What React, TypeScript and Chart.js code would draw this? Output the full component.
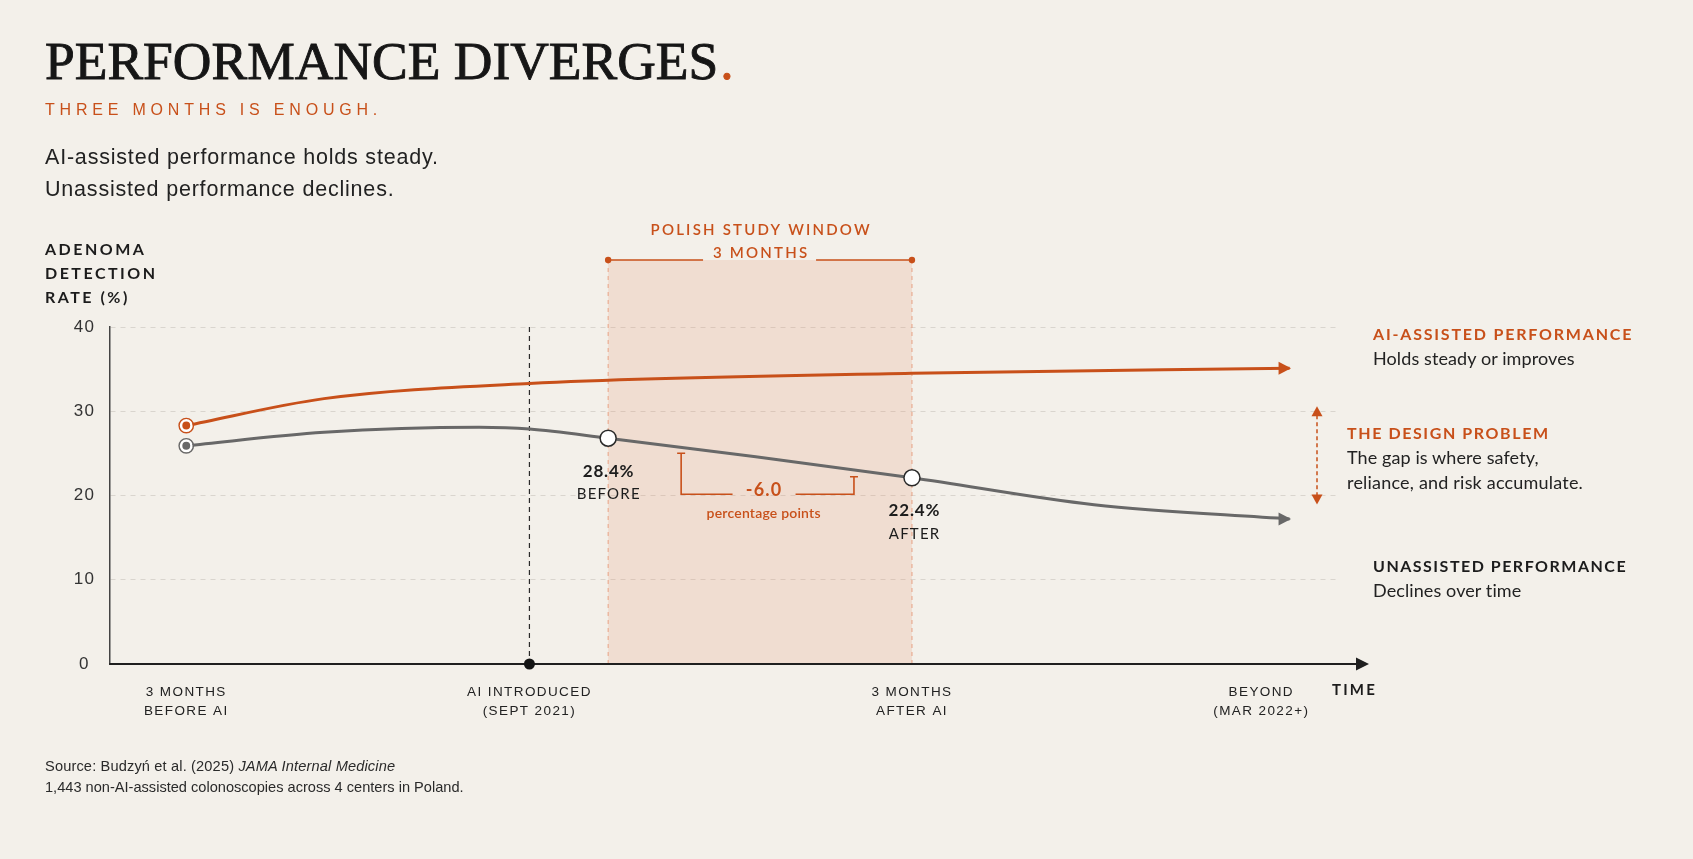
import React, { useEffect, useRef } from "react";
import { Chart, registerables } from "chart.js";

Chart.register(...registerables);

const ORANGE = "#c8501a";
const GRAY = "#686868";
const INK = "#1c1c1c";
const BG = "#f3f0ea";
const SANS = "'Liberation Sans', Arial, sans-serif";
const LATO = "Lato, 'Open Sans', sans-serif";

// Timeline positions (abstract units along the time axis, 0..100)
const timelineTicks = [6.2, 34.1, 65.2, 93.6];
const timelineTickLabels = [
  ["3 MONTHS", "BEFORE AI"],
  ["AI INTRODUCED", "(SEPT 2021)"],
  ["3 MONTHS", "AFTER AI"],
  ["BEYOND", "(MAR 2022+)"],
];
const yTickValues = [0, 10, 20, 30, 40];

// AI-assisted performance (adenoma detection rate, %)
const aiAssistedX = [6.2, 17.4, 34.1, 65.2, 95.9];
const aiAssistedY = [28.3, 31.5, 33.3, 34.5, 35.1];

// Unassisted performance (adenoma detection rate, %)
const unassistedX = [6.2, 17.4, 30.0, 34.1, 40.5, 52.5, 65.2, 80.0, 95.9];
const unassistedY = [25.9, 27.5, 28.1, 27.9, 26.8, 24.6, 22.1, 18.9, 17.2];

const aiIntroducedAt = 34.1;
const studyWindow = [40.5, 65.2];
const beforeIndex = 4;
const afterIndex = 6;
const beforeValueLabel = "28.4%";
const afterValueLabel = "22.4%";
const changeLabel = "-6.0";

function spacedText(
  ctx: CanvasRenderingContext2D,
  text: string,
  x: number,
  y: number,
  font: string,
  color: string,
  spacing: number,
  align: CanvasTextAlign = "center"
) {
  ctx.save();
  ctx.font = font;
  ctx.fillStyle = color;
  (ctx as any).letterSpacing = spacing + "px";
  ctx.textBaseline = "middle";
  ctx.textAlign = align;
  const dx = align === "center" ? spacing / 2 : 0;
  ctx.fillText(text, x + dx, y);
  ctx.restore();
}

function triangle(ctx: CanvasRenderingContext2D, pts: number[][], color: string) {
  ctx.beginPath();
  ctx.moveTo(pts[0][0], pts[0][1]);
  ctx.lineTo(pts[1][0], pts[1][1]);
  ctx.lineTo(pts[2][0], pts[2][1]);
  ctx.closePath();
  ctx.fillStyle = color;
  ctx.fill();
}

const overlayPlugin = {
  id: "overlay",
  beforeDraw(chart: any) {
    chart.ctx.letterSpacing = "1.4px";
  },
  beforeDatasetsDraw(chart: any) {
    const { ctx, chartArea, scales } = chart;
    const x = scales.x;
    ctx.save();
    ctx.letterSpacing = "0px";
    const x0 = x.getPixelForValue(studyWindow[0]);
    const x1 = x.getPixelForValue(studyWindow[1]);
    const top = chartArea.top - 67;
    ctx.fillStyle = "rgba(225,140,100,0.18)";
    ctx.fillRect(x0, top, x1 - x0, chartArea.bottom - top);
    ctx.strokeStyle = "#e8a184";
    ctx.lineWidth = 1;
    ctx.setLineDash([4, 4]);
    for (const xx of [x0, x1]) {
      ctx.beginPath();
      ctx.moveTo(xx, top);
      ctx.lineTo(xx, chartArea.bottom);
      ctx.stroke();
    }
    const xa = x.getPixelForValue(aiIntroducedAt);
    ctx.strokeStyle = "#2a2a2a";
    ctx.lineWidth = 1.2;
    ctx.setLineDash([5, 4]);
    ctx.beginPath();
    ctx.moveTo(xa, chartArea.top);
    ctx.lineTo(xa, chartArea.bottom);
    ctx.stroke();
    ctx.restore();
  },
  afterDatasetsDraw(chart: any) {
    const { ctx, chartArea, scales } = chart;
    const x = scales.x;
    const y = scales.y;
    ctx.save();
    ctx.letterSpacing = "0px";
    ctx.setLineDash([]);

    const aiMeta = chart.getDatasetMeta(0);
    const unMeta = chart.getDatasetMeta(1);

    // outer rings on start points
    const rings: [any, string][] = [
      [aiMeta.data[0], ORANGE],
      [unMeta.data[0], GRAY],
    ];
    for (const [p, c] of rings) {
      ctx.beginPath();
      ctx.arc(p.x, p.y, 7.2, 0, Math.PI * 2);
      ctx.strokeStyle = c;
      ctx.lineWidth = 1.4;
      ctx.stroke();
    }

    // arrowheads at line ends
    const ends: [any, string][] = [
      [aiMeta.data[aiMeta.data.length - 1], ORANGE],
      [unMeta.data[unMeta.data.length - 1], GRAY],
    ];
    for (const [p, c] of ends) {
      triangle(
        ctx,
        [
          [p.x + 1.5, p.y],
          [p.x - 11, p.y - 6.5],
          [p.x - 11, p.y + 6.5],
        ],
        c
      );
    }

    // x axis line with arrow
    const yb = chartArea.bottom;
    ctx.beginPath();
    ctx.moveTo(chartArea.left - 0.75, yb);
    ctx.lineTo(chartArea.right + 20, yb);
    ctx.strokeStyle = "#1f1f1f";
    ctx.lineWidth = 2;
    ctx.stroke();
    triangle(
      ctx,
      [
        [chartArea.right + 29, yb],
        [chartArea.right + 16, yb - 6.5],
        [chartArea.right + 16, yb + 6.5],
      ],
      "#1f1f1f"
    );
    spacedText(ctx, "TIME", chartArea.right - 8, yb + 26, `700 15px ${LATO}`, INK, 2.2, "left");

    // AI introduced dot
    const xa = x.getPixelForValue(aiIntroducedAt);
    ctx.beginPath();
    ctx.arc(xa, yb, 5.5, 0, Math.PI * 2);
    ctx.fillStyle = "#141414";
    ctx.fill();

    // study window header
    const x0 = x.getPixelForValue(studyWindow[0]);
    const x1 = x.getPixelForValue(studyWindow[1]);
    const xm = (x0 + x1) / 2;
    const hy = chartArea.top - 67;
    ctx.strokeStyle = ORANGE;
    ctx.lineWidth = 1.5;
    ctx.beginPath();
    ctx.moveTo(x0, hy);
    ctx.lineTo(xm - 57, hy);
    ctx.moveTo(xm + 56, hy);
    ctx.lineTo(x1, hy);
    ctx.stroke();
    for (const xx of [x0, x1]) {
      ctx.beginPath();
      ctx.arc(xx, hy, 3.2, 0, Math.PI * 2);
      ctx.fillStyle = ORANGE;
      ctx.fill();
    }
    spacedText(ctx, "POLISH STUDY WINDOW", xm, hy - 30, `600 15px ${LATO}`, ORANGE, 2.2);
    spacedText(ctx, "3 MONTHS", xm, hy - 7, `600 15px ${LATO}`, ORANGE, 2.2);

    // before / after labels
    const pb = unMeta.data[beforeIndex];
    const pa = unMeta.data[afterIndex];
    spacedText(ctx, beforeValueLabel, pb.x, pb.y + 33, `700 17px ${LATO}`, INK, 0.8);
    spacedText(ctx, "BEFORE", pb.x, pb.y + 56, `400 15px ${LATO}`, INK, 1.2);
    spacedText(ctx, afterValueLabel, pa.x + 2, pa.y + 33, `700 17px ${LATO}`, INK, 0.8);
    spacedText(ctx, "AFTER", pa.x + 2, pa.y + 56, `400 15px ${LATO}`, INK, 1.2);

    // -6.0 bracket
    const bl = pb.x + 73;
    const br = pa.x - 58;
    const bBottom = pb.y + 56;
    const cx = (bl + br) / 2 - 4;
    ctx.strokeStyle = ORANGE;
    ctx.lineWidth = 1.6;
    ctx.beginPath();
    ctx.moveTo(bl - 4, pb.y + 15);
    ctx.lineTo(bl + 4, pb.y + 15);
    ctx.moveTo(bl, pb.y + 15);
    ctx.lineTo(bl, bBottom);
    ctx.lineTo(cx - 31, bBottom);
    ctx.moveTo(cx + 32, bBottom);
    ctx.lineTo(br, bBottom);
    ctx.lineTo(br, pa.y - 1);
    ctx.moveTo(br - 4, pa.y - 1);
    ctx.lineTo(br + 4, pa.y - 1);
    ctx.stroke();
    spacedText(ctx, changeLabel, cx, bBottom - 4, `700 18px ${LATO}`, ORANGE, 1.2);
    spacedText(ctx, "percentage points", cx, bBottom + 19, `600 14px ${LATO}`, ORANGE, 0.2);

    // gap double arrow
    const gx = chartArea.right - 23;
    const gTop = y.getPixelForValue(30) - 5;
    const gBot = y.getPixelForValue(20) + 9;
    ctx.setLineDash([4, 3]);
    ctx.lineWidth = 1.5;
    ctx.beginPath();
    ctx.moveTo(gx, gTop + 9);
    ctx.lineTo(gx, gBot - 9);
    ctx.stroke();
    ctx.setLineDash([]);
    triangle(ctx, [[gx, gTop], [gx - 5.5, gTop + 10], [gx + 5.5, gTop + 10]], ORANGE);
    triangle(ctx, [[gx, gBot], [gx - 5.5, gBot - 10], [gx + 5.5, gBot - 10]], ORANGE);

    ctx.restore();
  },
};

type LineSpec = {
  text: React.ReactNode;
  left: number;
  center: number;
  size: number;
  color: string;
  family: string;
  weight?: number;
  spacing?: number;
  lh?: number;
  extra?: React.CSSProperties;
};

function Line({ text, left, center, size, color, family, weight = 400, spacing = 0, lh = 24, extra }: LineSpec) {
  return (
    <div
      style={{
        position: "absolute",
        left,
        top: center - lh / 2,
        height: lh,
        lineHeight: lh + "px",
        fontSize: size,
        color,
        fontFamily: family,
        fontWeight: weight,
        letterSpacing: spacing,
        whiteSpace: "nowrap",
        ...extra,
      }}
    >
      {text}
    </div>
  );
}

export default function App() {
  const canvasRef = useRef<HTMLCanvasElement>(null);

  useEffect(() => {
    const canvas = canvasRef.current;
    if (!canvas) return;
    const chart = new Chart(canvas, {
      type: "line",
      data: {
        datasets: [
          {
            label: "AI-assisted performance",
            data: aiAssistedX.map((v, i) => ({ x: v, y: aiAssistedY[i] })),
            borderColor: ORANGE,
            borderWidth: 3,
            cubicInterpolationMode: "monotone",
            fill: false,
            pointRadius: aiAssistedX.map((_, i) => (i === 0 ? 5.2 : 0)),
            pointBackgroundColor: ORANGE,
            pointBorderColor: "#ffffff",
            pointBorderWidth: 2.5,
          },
          {
            label: "Unassisted performance",
            data: unassistedX.map((v, i) => ({ x: v, y: unassistedY[i] })),
            borderColor: GRAY,
            borderWidth: 3,
            cubicInterpolationMode: "monotone",
            fill: false,
            pointRadius: unassistedX.map((_, i) =>
              i === 0 ? 5.2 : i === beforeIndex || i === afterIndex ? 8 : 0
            ),
            pointBackgroundColor: unassistedX.map((_, i) => (i === 0 ? GRAY : "#ffffff")),
            pointBorderColor: unassistedX.map((_, i) => (i === 0 ? "#ffffff" : "#2a2a2a")),
            pointBorderWidth: unassistedX.map((_, i) => (i === 0 ? 2.5 : 1.5)),
          },
        ],
      },
      options: {
        responsive: false,
        animation: false,
        events: [],
        layout: { padding: { top: 327, right: 353, bottom: 0, left: 0 } },
        plugins: { legend: { display: false }, tooltip: { enabled: false } },
        scales: {
          x: {
            type: "linear",
            min: 0,
            max: 100,
            afterBuildTicks: (s: any) => {
              s.ticks = timelineTicks.map((v) => ({ value: v }));
            },
            afterFit: (s: any) => {
              s.height = 195;
            },
            grid: { display: false, drawTicks: false },
            border: { display: false },
            ticks: {
              autoSkip: false,
              maxRotation: 0,
              minRotation: 0,
              padding: 18,
              color: "#222222",
              font: { family: SANS, size: 13.5, lineHeight: 1.45 },
              callback: (_v: any, i: number) => timelineTickLabels[i] || "",
            },
          },
          y: {
            type: "linear",
            min: 0,
            max: 40,
            afterBuildTicks: (s: any) => {
              s.ticks = yTickValues.map((v) => ({ value: v }));
            },
            afterFit: (s: any) => {
              s.width = 110;
            },
            grid: { color: "#d9d5ce", lineWidth: 1, drawTicks: false },
            border: { display: true, color: "#444444", width: 1.5, dash: [5, 5] },
            ticks: {
              padding: 16,
              crossAlign: "center",
              color: "#333333",
              font: { family: SANS, size: 17 },
            },
          },
        },
      },
      plugins: [overlayPlugin],
    } as any);
    return () => chart.destroy();
  }, []);

  return (
    <div
      style={{
        position: "absolute",
        left: 0,
        top: 0,
        width: 1693,
        height: 859,
        background: BG,
        overflow: "hidden",
      }}
    >
      <canvas
        ref={canvasRef}
        width={1693}
        height={859}
        style={{ position: "absolute", left: 0, top: 0, width: 1693, height: 859 }}
      />
      <Line
        text={
          <>
            PERFORMANCE DIVERGES
            <span style={{ color: ORANGE, WebkitTextStroke: `0.9px ${ORANGE}`, marginLeft: 2 }}>.</span>
          </>
        }
        left={45}
        center={61}
        size={53.5}
        lh={60}
        color="#161616"
        family="'Liberation Serif', 'Times New Roman', serif"
        weight={400}
        extra={{ WebkitTextStroke: "0.9px #161616" }}
      />
      <Line text="THREE MONTHS IS ENOUGH." left={45} center={110} size={16} color={ORANGE} family={SANS} spacing={4.8} />
      <Line text="AI-assisted performance holds steady." left={45} center={157} size={21.5} color="#222" family={SANS} spacing={0.8} lh={32} />
      <Line text="Unassisted performance declines." left={45} center={189} size={21.5} color="#222" family={SANS} spacing={0.8} lh={32} />

      <Line text="ADENOMA" left={45} center={249} size={16} color={INK} family={LATO} weight={700} spacing={2.5} />
      <Line text="DETECTION" left={45} center={273} size={16} color={INK} family={LATO} weight={700} spacing={2.5} />
      <Line text="RATE (%)" left={45} center={297} size={16} color={INK} family={LATO} weight={700} spacing={2.5} />

      <Line text="AI-ASSISTED PERFORMANCE" left={1373} center={334} size={16} color={ORANGE} family={LATO} weight={700} spacing={1.8} />
      <Line text="Holds steady or improves" left={1373} center={358} size={18} color="#222" family={LATO} spacing={0.1} />
      <Line text="THE DESIGN PROBLEM" left={1347} center={433} size={16} color={ORANGE} family={LATO} weight={700} spacing={1.6} />
      <Line text="The gap is where safety," left={1347} center={457} size={18} color="#222" family={LATO} spacing={0.1} />
      <Line text="reliance, and risk accumulate." left={1347} center={482} size={18} color="#222" family={LATO} spacing={0.2} />
      <Line text="UNASSISTED PERFORMANCE" left={1373} center={566} size={16} color={INK} family={LATO} weight={700} spacing={1.5} />
      <Line text="Declines over time" left={1373} center={590} size={18} color="#222" family={LATO} spacing={0.1} />

      <Line
        text={
          <>
            Source: Budzyń et al. (2025) <i>JAMA Internal Medicine</i>
          </>
        }
        left={45}
        center={766}
        size={14.6}
        lh={20}
        color="#2a2a2a"
        family={SANS}
        spacing={0.15}
      />
      <Line
        text="1,443 non-AI-assisted colonoscopies across 4 centers in Poland."
        left={45}
        center={787}
        size={14.6}
        lh={20}
        color="#2a2a2a"
        family={SANS}
        spacing={0}
      />
    </div>
  );
}
